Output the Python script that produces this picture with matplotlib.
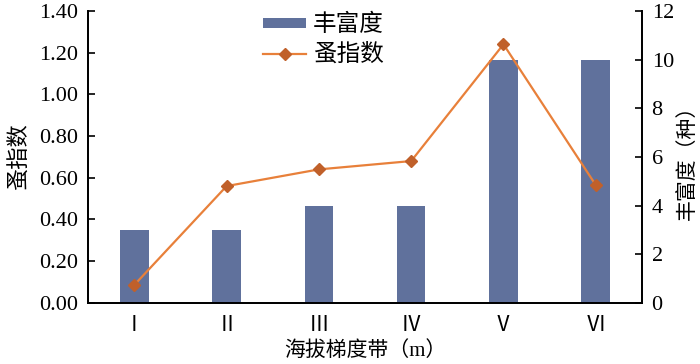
import numpy as np
import matplotlib.pyplot as plt

plt.rcParams['font.family'] = ['Liberation Serif', 'Noto Sans CJK SC', 'DejaVu Sans']

zones = ['Ⅰ', 'Ⅱ', 'Ⅲ', 'Ⅳ', 'Ⅴ', 'Ⅵ']
richness = [3, 3, 4, 4, 10, 10]
flea_index = [0.086, 0.56, 0.64, 0.68, 1.24, 0.565]

fig = plt.figure(figsize=(7, 3.64), dpi=100)
ax = fig.add_axes([0.126, 0.168, 0.791, 0.802])
ax2 = ax.twinx()

x = np.arange(len(zones))
bars = ax2.bar(x, richness, width=0.31, color='#60719c', label='丰富度')
line, = ax.plot(x, flea_index, color='#e8803a', lw=1.6, marker='D', ms=6,
                mfc='#c0602a', mec='#c0602a', label='蚤指数')
ax.set_zorder(ax2.get_zorder() + 1)
ax.patch.set_visible(False)

ax.set_xlim(-0.5, 5.5)
ax.set_ylim(0, 1.40)
ax.set_yticks(np.arange(0, 1.41, 0.2))
ax.set_yticklabels(['%.2f' % v for v in np.arange(0, 1.41, 0.2)])
ax2.set_ylim(0, 12)
ax2.set_yticks(range(0, 13, 2))
ax.set_xticks(x)
ax.set_xticklabels(zones)

for a in (ax, ax2):
    a.spines['top'].set_visible(False)
    a.tick_params(axis='y', direction='in', labelsize=16, length=5, width=1.2, pad=7)
    for s in a.spines.values():
        s.set_linewidth(1.3)
ax.tick_params(axis='x', length=0, labelsize=15, pad=10)

ax.set_ylabel('蚤指数', fontsize=16, labelpad=6)
ax2.set_ylabel('丰富度（种）', fontsize=15, labelpad=3)
ax.set_xlabel('海拔梯度带（m）', fontsize=15, labelpad=4)

ax.legend([bars, line], ['丰富度', '蚤指数'], loc='upper left',
          bbox_to_anchor=(0.295, 1.03), frameon=False, fontsize=17,
          handlelength=1.8, handleheight=0.3, handletextpad=0.3,
          borderpad=0, labelspacing=0.3)

fig.savefig('out.png', dpi=100)
